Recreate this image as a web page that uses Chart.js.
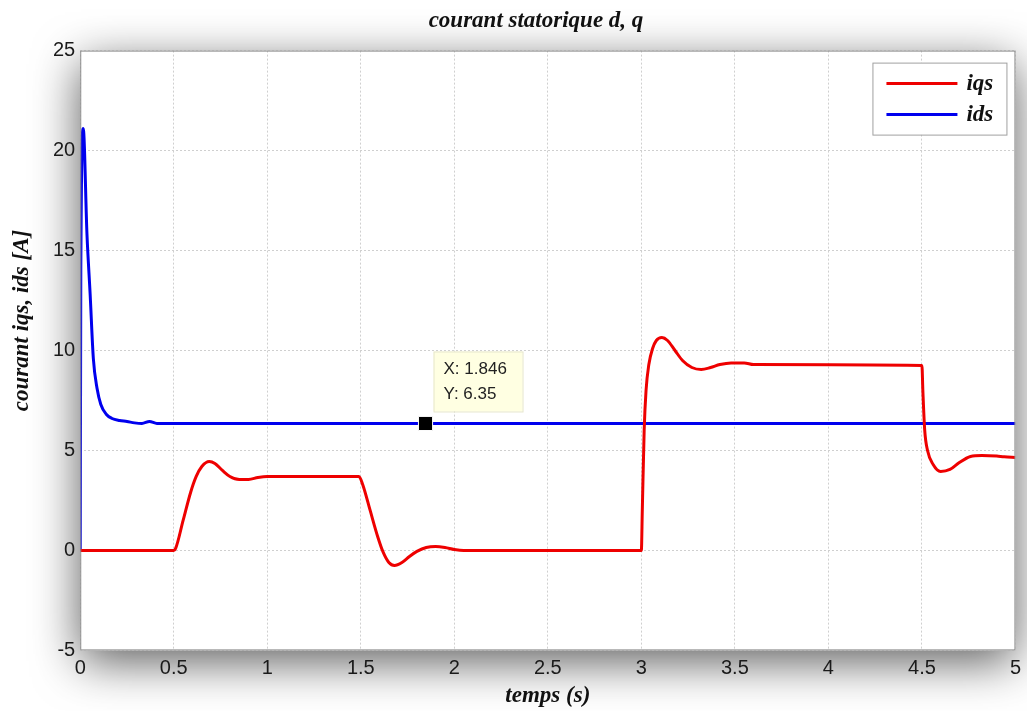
<!DOCTYPE html>
<html>
<head>
<meta charset="utf-8">
<script src="https://cdn.jsdelivr.net/npm/chart.js@4/dist/chart.umd.min.js"></script>
<style>
  body { margin: 0; background: #fff; }
  canvas { display: block; }
</style>
</head>
<body>
<canvas id="courant" width="1027" height="711"></canvas>
<script>
// iqs (red) - time (s) and current (A)
var iqsT = [0, 0.5, 0.51, 0.55, 0.59, 0.62, 0.65, 0.69, 0.72, 0.76, 0.80, 0.85, 0.90, 0.95, 1.0, 1.49,
    1.51, 1.55, 1.59, 1.62, 1.65, 1.68, 1.72, 1.76, 1.80, 1.85, 1.90, 1.95, 2.0, 2.05, 3.0,
    3.005, 3.015, 3.025, 3.04, 3.06, 3.08, 3.11, 3.14, 3.18, 3.22, 3.27, 3.32, 3.37, 3.42, 3.48, 3.55, 3.6, 4.5,
    4.505, 4.515, 4.53, 4.56, 4.6, 4.65, 4.7, 4.76, 4.82, 4.9, 4.94, 5.0];
var iqsV = [0, 0, 0.1, 1.5, 2.9, 3.7, 4.2, 4.45, 4.35, 4.0, 3.7, 3.55, 3.55, 3.65, 3.7, 3.7,
    3.3, 2.0, 0.7, -0.1, -0.6, -0.75, -0.6, -0.3, -0.05, 0.15, 0.2, 0.15, 0.05, 0, 0,
    2, 6, 8, 9.3, 10.1, 10.5, 10.65, 10.5, 10.0, 9.5, 9.15, 9.05, 9.15, 9.3, 9.38, 9.38, 9.3, 9.25,
    8, 6, 5, 4.3, 3.95, 4.05, 4.4, 4.7, 4.75, 4.72, 4.68, 4.65];

// ids (blue)
var idsT = [0, 0.003, 0.016, 0.036, 0.053, 0.07, 0.09, 0.11, 0.14, 0.17, 0.21, 0.25, 0.29, 0.33, 0.37, 0.41, 5.0];
var idsV = [0, 14, 21.1, 15.8, 12.8, 9.6, 8.1, 7.3, 6.8, 6.6, 6.5, 6.45, 6.38, 6.35, 6.45, 6.35, 6.35];

// data tip
var tipX = [1.846];
var tipY = [6.35];

var xTicks = [0, 0.5, 1, 1.5, 2, 2.5, 3, 3.5, 4, 4.5, 5];
var yTicks = [-5, 0, 5, 10, 15, 20, 25];
var yTitle = 'courant iqs, ids [A]';

function pts(t, v) {
    return t.map(function (x, i) { return { x: x, y: v[i] }; });
}

var serif = "'Liberation Serif', 'Times New Roman', serif";
var sans = "'Liberation Sans', Arial, sans-serif";

// shadow behind the plot + box around it
var frame = {
    id: 'frame',
    beforeDraw: function (chart) {
        var c = chart.ctx, a = chart.chartArea;
        c.save();
        c.fillStyle = '#fff';
        c.fillRect(0, 0, chart.width, chart.height);
        c.shadowColor = 'rgba(0,0,0,0.65)';
        c.shadowBlur = 45;
        c.shadowOffsetY = 12;
        c.fillRect(a.left, a.top, a.right - a.left, a.bottom - a.top);
        c.restore();
    },
    afterDatasetsDraw: function (chart) {
        var c = chart.ctx, a = chart.chartArea;
        c.save();
        c.strokeStyle = '#8a8a8a';
        c.lineWidth = 1;
        c.strokeRect(a.left + 0.5, a.top + 0.5, a.right - a.left - 1, a.bottom - a.top - 1);

        // y title (sits a bit above centre, like the original)
        c.save();
        c.translate(22, a.top + (a.bottom - a.top) * 0.45);
        c.rotate(-Math.PI / 2);
        c.fillStyle = '#111';
        c.font = 'bold italic 23px ' + serif;
        c.textAlign = 'center';
        c.textBaseline = 'middle';
        c.fillText(yTitle, 0, 0);
        c.restore();

        // legend box
        var ds = chart.data.datasets.slice(0, 2);
        var bx = a.right - 143, by = a.top + 12, bw = 134, bh = 72;
        c.fillStyle = '#fff';
        c.fillRect(bx, by, bw, bh);
        c.strokeStyle = '#a0a0a0';
        c.strokeRect(bx + 0.5, by + 0.5, bw, bh);
        ds.forEach(function (d, i) {
            var y = by + 21 + i * 31;
            c.strokeStyle = d.borderColor;
            c.lineWidth = 3;
            c.beginPath();
            c.moveTo(bx + 14, y);
            c.lineTo(bx + 85, y);
            c.stroke();
            c.fillStyle = '#111';
            c.font = 'bold italic 23px ' + serif;
            c.textBaseline = 'middle';
            c.fillText(d.label, bx + 94, y);
        });

        // data tip label
        var xs = chart.scales.x, ys = chart.scales.y;
        var px = xs.getPixelForValue(tipX[0]), py = ys.getPixelForValue(tipY[0]);
        var tx = px + 8, ty = py - 72;
        c.fillStyle = '#ffffe2';
        c.fillRect(tx, ty, 89, 60);
        c.strokeStyle = '#e6e6cc';
        c.lineWidth = 1;
        c.strokeRect(tx + 0.5, ty + 0.5, 89, 60);
        c.fillStyle = '#222';
        c.font = '17px ' + sans;
        c.textBaseline = 'middle';
        c.fillText('X: ' + tipX[0], tx + 10, ty + 18);
        c.fillText('Y: ' + tipY[0], tx + 10, ty + 43);
        c.restore();
    }
};

var ctx = document.getElementById('courant').getContext('2d');
var chart = new Chart(ctx, {
    type: 'line',
    data: {
        datasets: [
            {
                label: 'iqs',
                data: pts(iqsT, iqsV),
                borderColor: '#ee0000',
                borderWidth: 3,
                pointRadius: 0,
                cubicInterpolationMode: 'monotone',
            },
            {
                label: 'ids',
                data: pts(idsT, idsV),
                borderColor: '#0000ee',
                borderWidth: 3,
                pointRadius: 0,
                cubicInterpolationMode: 'monotone',
            },
            {
                label: 'tip',
                type: 'scatter',
                data: pts(tipX, tipY),
                order: -1,
                pointStyle: 'rect',
                pointRadius: 10,
                backgroundColor: '#000',
                borderColor: '#fff',
                borderWidth: 1,
            },
        ],
    },
    options: {
        responsive: false,
        animation: false,
        layout: { padding: { top: 7, right: 3, left: 48, bottom: 1 } },
        plugins: {
            legend: { display: false },
            tooltip: { enabled: false },
            title: {
                display: true,
                text: 'courant statorique d, q',
                color: '#111',
                font: { family: serif, size: 23, weight: 'bold', style: 'italic' },
                padding: { top: 0, bottom: 16 },
            },
        },
        scales: {
            x: {
                type: 'linear',
                min: 0,
                max: 5,
                afterBuildTicks: function (s) { s.ticks = xTicks.map(function (v) { return { value: v }; }); },
                grid: { color: '#cfcfcf', borderDash: [2, 2], drawTicks: false },
                border: { display: false, dash: [2, 2] },
                ticks: {
                    color: '#1a1a1a', padding: 6, maxRotation: 0,
                    font: { family: sans, size: 20 },
                    callback: function (v) { return String(v); },
                },
                title: {
                    display: true,
                    text: 'temps (s)',
                    color: '#111',
                    font: { family: serif, size: 23, weight: 'bold', style: 'italic' },
                    padding: { top: -4, bottom: 0 },
                },
            },
            y: {
                min: -5,
                max: 25,
                afterBuildTicks: function (s) { s.ticks = yTicks.map(function (v) { return { value: v }; }); },
                grid: { color: '#cfcfcf', drawTicks: false },
                border: { display: false, dash: [2, 2] },
                ticks: {
                    color: '#1a1a1a', padding: 5,
                    font: { family: sans, size: 20 },
                    callback: function (v) { return String(v); },
                },
            },
        },
    },
    plugins: [frame],
});
</script>
</body>
</html>
